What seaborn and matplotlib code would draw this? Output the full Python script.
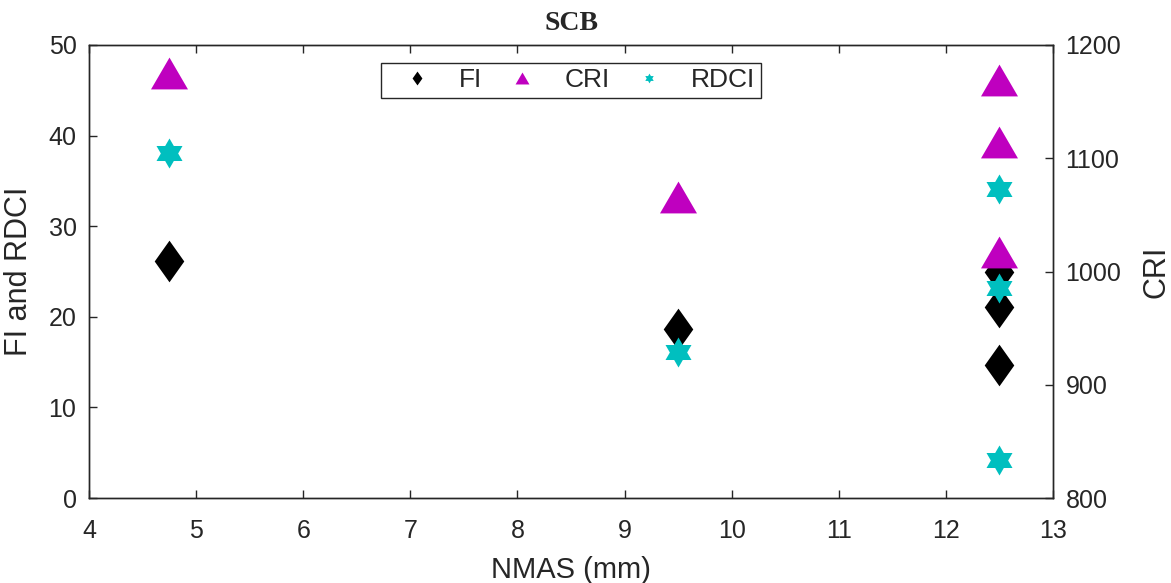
import numpy as np
import pandas as pd
import matplotlib
matplotlib.use("Agg")
import matplotlib.pyplot as plt
from matplotlib.path import Path
from matplotlib.lines import Line2D
import seaborn as sns

# ---- data ----
nmas = [4.75, 9.5, 12.5, 12.5, 12.5]
fi = [26.2, 18.6, 25.0, 21.1, 14.7]
cri = [1175, 1066, 1169, 1114, 1017]
rdci = [38.1, 16.1, 34.1, 23.2, 4.2]

left_ticks = [0, 10, 20, 30, 40, 50]
right_ticks = [800, 900, 1000, 1100, 1200]
x_ticks = [4, 5, 6, 7, 8, 9, 10, 11, 12, 13]

sns.set_theme(style="white")
plt.rcParams['font.family'] = ['Liberation Sans', 'DejaVu Sans']

magenta = '#BF00BF'
cyan = '#00BFBF'
dark = '#262626'

# custom markers
ang = np.deg2rad(np.arange(12) * 30 + 90)
rad = np.where(np.arange(12) % 2 == 0, 1.0, 1 / np.sqrt(3))
hexv = np.column_stack([rad * np.cos(ang), rad * np.sin(ang)])
hexv = np.vstack([hexv, hexv[:1]])
hexagram = Path(hexv, closed=True)
tri = Path([(0, 0.86), (-1, -0.86), (1, -0.86), (0, 0.86)], closed=True)
diam = Path([(0, 1), (-0.71, 0), (0, -1), (0.71, 0), (0, 1)], closed=True)

W, H = 1171, 583
fig = plt.figure(figsize=(W / 100, H / 100), dpi=100)
L, R, T, B = 89, 1053, 45, 498
ax = fig.add_axes([L / W, 1 - B / H, (R - L) / W, (B - T) / H])
ax2 = ax.twinx()

df = pd.DataFrame({'NMAS': nmas, 'FI': fi, 'CRI': cri, 'RDCI': rdci})

sns.scatterplot(data=df, x='NMAS', y='FI', marker=diam, color='black', s=900,
                edgecolor='black', linewidth=0, ax=ax, legend=False, zorder=3)
sns.scatterplot(data=df, x='NMAS', y='RDCI', marker=hexagram, color=cyan, s=467,
                edgecolor=cyan, linewidth=0, ax=ax, legend=False, zorder=4)
sns.scatterplot(data=df, x='NMAS', y='CRI', marker=tri, color=magenta, s=710,
                edgecolor=magenta, linewidth=0, ax=ax2, legend=False, zorder=3)

ax.set_xlim(4, 13)
ax.set_ylim(0, 50)
ax2.set_ylim(800, 1200)
ax.set_xticks(x_ticks)
ax.set_yticks(left_ticks)
ax2.set_yticks(right_ticks)

for a in (ax, ax2):
    for sp in a.spines.values():
        sp.set_color(dark)
        sp.set_linewidth(1.0)

ax.tick_params(axis='x', direction='in', length=6, width=1, color=dark,
               top=True, bottom=True, labelsize=18, labelcolor=dark, pad=15)
ax.tick_params(axis='y', direction='in', length=6, width=1, color=dark,
               left=True, right=False, labelsize=18, labelcolor=dark, pad=9)
ax2.tick_params(axis='y', direction='in', length=6, width=1, color=dark,
                right=True, left=False, labelsize=18, labelcolor=dark, pad=9)

ax.set_xlabel('NMAS (mm)', fontsize=21, color=dark)
ax.xaxis.set_label_coords(0.5, -0.128)
ax.set_ylabel('FI and RDCI', fontsize=22, color=dark)
ax.yaxis.set_label_coords(-0.057, 0.5)
ax2.set_ylabel('CRI', fontsize=22, color=dark)
ax2.yaxis.set_label_coords(1.092, 0.5)
ax.set_title('SCB', fontsize=20, fontweight='bold',
             family=['Liberation Serif', 'DejaVu Serif'], color=dark, pad=11)

handles = [
    Line2D([], [], linestyle='none', marker=diam, color='black', markersize=10, markeredgewidth=0),
    Line2D([], [], linestyle='none', marker=tri, color=magenta, markersize=10, markeredgewidth=0),
    Line2D([], [], linestyle='none', marker=hexagram, color=cyan, markersize=7, markeredgewidth=0),
]
leg = ax2.legend(handles, ['FI', 'CRI', 'RDCI'], loc='upper center',
                 bbox_to_anchor=(0.5, 0.960), borderaxespad=0, ncol=3, fontsize=19,
                 frameon=True, fancybox=False, edgecolor=dark, framealpha=1,
                 handlelength=2.3, columnspacing=0.35, handletextpad=0.45,
                 borderpad=0.2)
leg.get_frame().set_linewidth(1.0)

fig.savefig('out.png', dpi=100)
